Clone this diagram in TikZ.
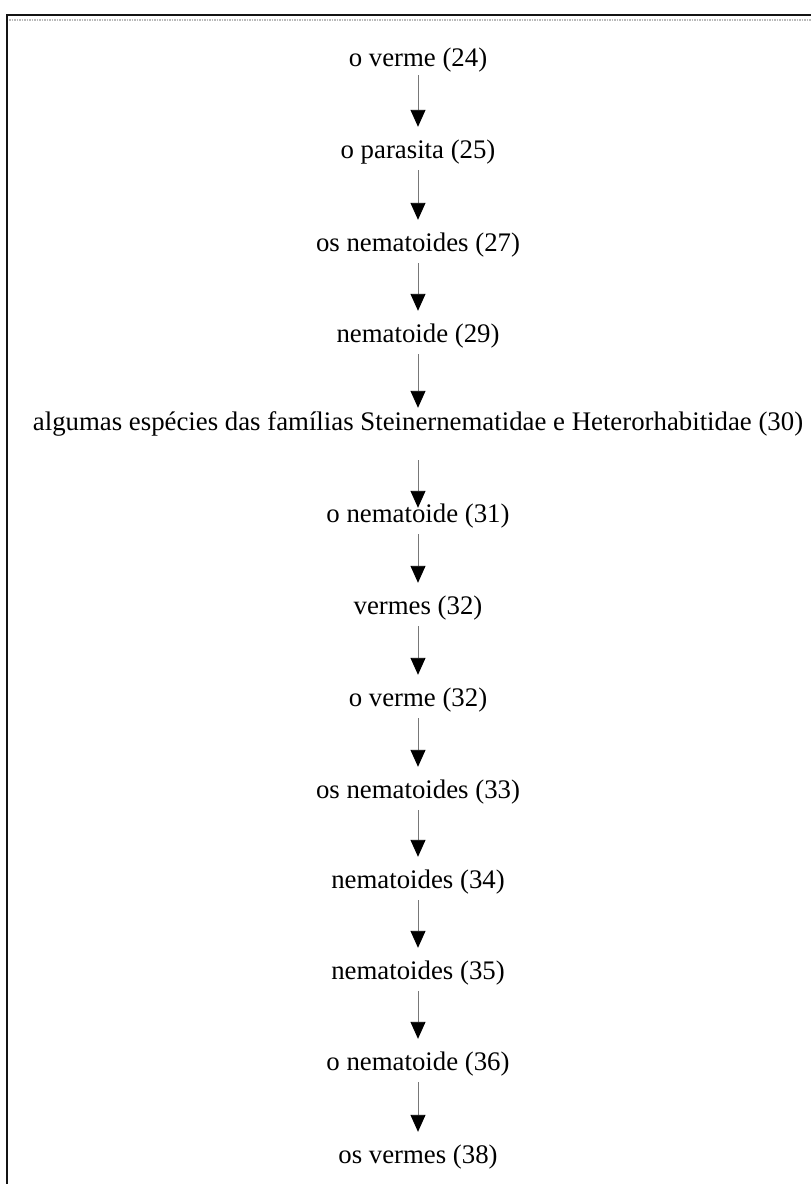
\documentclass[tikz,border=0pt]{standalone}
\usepackage{fontspec}
\setmainfont{Liberation Serif}
\usepackage{tikz}
\usetikzlibrary{arrows.meta}
\definecolor{linhacinza}{RGB}{120,120,120}
\definecolor{moldura}{RGB}{20,20,20}
\definecolor{pontilhado}{RGB}{185,185,185}

\begin{document}
\begin{tikzpicture}[x=1pt, y=-1pt,
  termo/.style={inner xsep=0pt, inner ysep=5.5pt, text height=19pt, text depth=6pt,
    font=\fontsize{26.8pt}{32pt}\selectfont},
  seta/.style={linhacinza, line width=0.9pt,
    -{Triangle[width=15pt,length=17pt,color=black]}, shorten >=7pt}]
  \useasboundingbox (0,0) rectangle (811,1184);
  % moldura
  \draw[moldura, line width=2pt] (7,1184) -- (7,15) -- (811,15);
  \draw[pontilhado, line width=1.2pt, dash pattern=on 1.5pt off 1pt] (9,20) -- (811,20);
  % termos da cadeia
  \foreach \y/\txt [count=\i] in {60/o verme (24), 152/o parasita (25), 245/os nematoides (27),
      336/nematoide (29),
      424/algumas espécies das famílias Steinernematidae e Heterorhabitidae (30),
      516/o nematoide (31), 608/vermes (32), 700/o verme (32), 792/os nematoides (33),
      882/nematoides (34), 973/nematoides (35), 1064/o nematoide (36), 1157/os vermes (38)} {
    \node[termo] (t\i) at (418,\y) {\txt};
  }
  \foreach \i/\j in {2/3, 3/4, 6/7, 7/8, 8/9, 9/10, 10/11, 11/12, 12/13}
    \draw[seta] (t\i) -- (t\j);
  \draw[seta, shorten <=-3pt] (t1) -- (t2);
  \draw[seta, shorten >=-2pt] (t4) -- (t5);
  \draw[seta, shorten <=18pt, shorten >=-10pt] (t5) -- (t6);
\end{tikzpicture}
\end{document}
